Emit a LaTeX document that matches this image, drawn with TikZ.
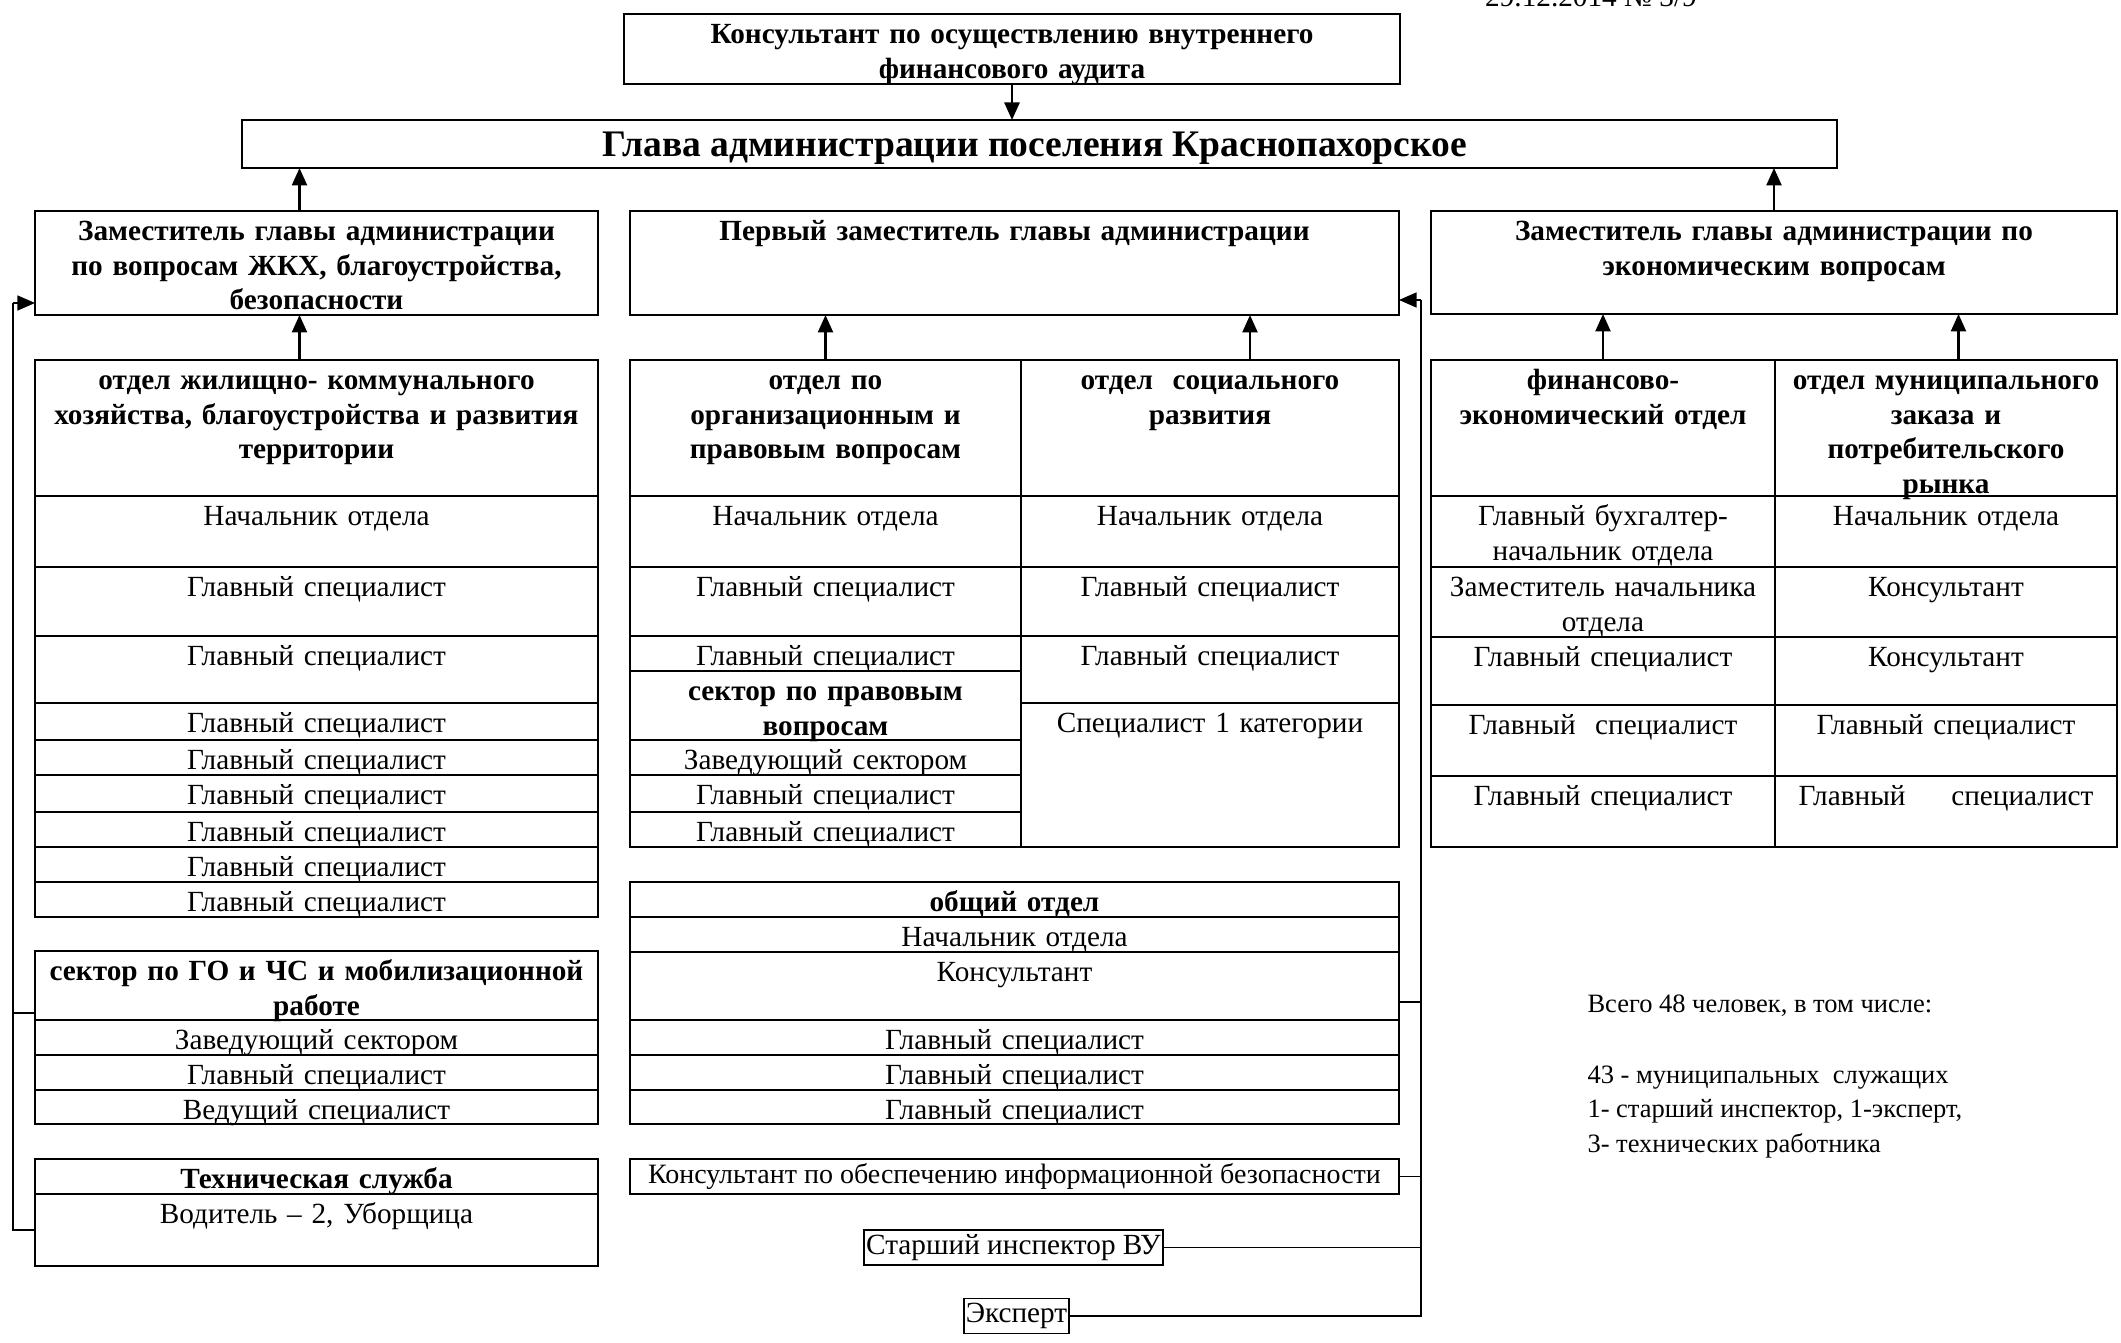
\documentclass[tikz,border=0pt]{standalone}
\usepackage{fontspec}
\setmainfont{Liberation Serif}
\usepackage{tikz}
\usetikzlibrary{arrows.meta}

\tikzset{
	cellbox/.style={draw, line width=1pt, inner sep=0pt, outer sep=0pt},
	celltext/.style={font=\fontsize{11.7}{13.8}\selectfont, align=center, inner sep=0pt, anchor=north},
	hdr/.style={font=\fontsize{11.7}{13.8}\selectfont\bfseries},
	thinbox/.style={draw, line width=0.6pt, inner sep=0pt, font=\fontsize{11.7}{13.8}\selectfont},
	bus/.style={line width=0.5pt},
	arr/.style={-{Triangle[length=7pt,width=6pt]}, line width=1pt},
	note/.style={font=\fontsize{10.6}{12}\selectfont, inner sep=0pt, anchor=base west},
}

\newcommand{\orgcell}[7][]{%
	\pgfmathsetmacro{\cw}{(#5-#3)*0.4}%
	\pgfmathsetmacro{\ch}{(#6-#4)*0.4}%
	\node[cellbox, minimum width=\cw pt, minimum height=\ch pt] (#2) at ({(#3+#5)/2},{(#4+#6)/2}) {};
	\node[celltext, #1, text width=\cw pt] (#2-txt) at ({(#3+#5)/2},{#4+5}) {\strut #7};
}

\begin{document}
\begin{tikzpicture}[x=0.4pt, y=-0.4pt]
	\useasboundingbox (0,0) rectangle (2121,1343);

	\node[celltext, anchor=base] (date) at (1591,7) {29.12.2014 № 3/9};

	\orgcell[hdr]{audit}{624}{14}{1400}{84}{Консультант по осуществлению внутреннего\\ финансового аудита}
	\node[cellbox, minimum width=638pt, minimum height=19.2pt] (head) at (1039.5,144) {};
	\node[inner sep=0pt, anchor=base, font=\fontsize{15}{18}\selectfont\bfseries] (head-txt) at (1035,157) {Глава администрации поселения Краснопахорское};

	\orgcell[hdr]{depZhkh}{35}{211}{598}{315}{Заместитель главы администрации\\ по вопросам ЖКХ, благоустройства,\\ безопасности}
	\orgcell[hdr]{depFirst}{630}{211}{1399}{315}{Первый заместитель главы администрации}
	\orgcell[hdr]{depEcon}{1431}{211}{2117}{314}{Заместитель главы администрации по\\ экономическим вопросам}

	\orgcell[hdr]{otdZhkh}{35}{360}{598}{496}{отдел жилищно- коммунального\\ хозяйства, благоустройства и развития\\ территории}
	\orgcell{zhkh1}{35}{496}{598}{567}{Начальник отдела}
	\orgcell{zhkh2}{35}{567}{598}{636}{Главный специалист}
	\orgcell{zhkh3}{35}{636}{598}{703}{Главный специалист}
	\orgcell{zhkh4}{35}{703}{598}{740}{Главный специалист}
	\orgcell{zhkh5}{35}{740}{598}{775}{Главный специалист}
	\orgcell{zhkh6}{35}{775}{598}{812}{Главный специалист}
	\orgcell{zhkh7}{35}{812}{598}{847}{Главный специалист}
	\orgcell{zhkh8}{35}{847}{598}{882}{Главный специалист}
	\orgcell{zhkh9}{35}{882}{598}{917}{Главный специалист}

	\orgcell[hdr]{go0}{35}{951}{598}{1020}{сектор по ГО и ЧС и мобилизационной\\ работе}
	\orgcell{go1}{35}{1020}{598}{1055}{Заведующий сектором}
	\orgcell{go2}{35}{1055}{598}{1090}{Главный специалист}
	\orgcell{go3}{35}{1090}{598}{1124}{Ведущий специалист}

	\orgcell[hdr]{tech0}{35}{1159}{598}{1194}{Техническая служба}
	\orgcell{tech1}{35}{1194}{598}{1266}{Водитель – 2, Уборщица}

	\orgcell[hdr]{otdOrg}{630}{360}{1021}{496}{отдел по\\ организационным и\\ правовым вопросам}
	\orgcell{org1}{630}{496}{1021}{567}{Начальник отдела}
	\orgcell{org2}{630}{567}{1021}{636}{Главный специалист}
	\orgcell{org3}{630}{636}{1021}{671}{Главный специалист}
	\orgcell[hdr]{orgSec}{630}{671}{1021}{740}{сектор по правовым\\ вопросам}
	\orgcell{org4}{630}{740}{1021}{775}{Заведующий сектором}
	\orgcell{org5}{630}{775}{1021}{812}{Главный специалист}
	\orgcell{org6}{630}{812}{1021}{847}{Главный специалист}

	\orgcell[hdr]{otdSoc}{1021}{360}{1399}{496}{отдел~ социального\\ развития}
	\orgcell{soc1}{1021}{496}{1399}{567}{Начальник отдела}
	\orgcell{soc2}{1021}{567}{1399}{636}{Главный специалист}
	\orgcell{soc3}{1021}{636}{1399}{703}{Главный специалист}
	\orgcell{soc4}{1021}{703}{1399}{847}{Специалист 1 категории}

	\orgcell[hdr]{obsh0}{630}{882}{1399}{917}{общий отдел}
	\orgcell{obsh1}{630}{917}{1399}{952}{Начальник отдела}
	\orgcell{obsh2}{630}{952}{1399}{1020}{Консультант}
	\orgcell{obsh3}{630}{1020}{1399}{1055}{Главный специалист}
	\orgcell{obsh4}{630}{1055}{1399}{1090}{Главный специалист}
	\orgcell{obsh5}{630}{1090}{1399}{1124}{Главный специалист}

	\node[cellbox, minimum width=307.6pt, minimum height=14pt, font=\fontsize{11.2}{13.8}\selectfont] (infoSec) at (1014.5,1176.5) {Консультант по обеспечению информационной безопасности};
	\node[thinbox, minimum width=119.6pt, minimum height=14pt] (inspector) at (1013.5,1247.5) {Старший инспектор ВУ};
	\node[thinbox, minimum width=42pt, minimum height=14pt] (expert) at (1016.5,1316) {Эксперт};

	\orgcell[hdr]{otdFin}{1431}{360}{1775}{496}{финансово-\\ экономический отдел}
	\orgcell{fin1}{1431}{496}{1775}{567}{Главный бухгалтер-\\ начальник отдела}
	\orgcell{fin2}{1431}{567}{1775}{637}{Заместитель начальника\\ отдела}
	\orgcell{fin3}{1431}{637}{1775}{705}{Главный специалист}
	\orgcell{fin4}{1431}{705}{1775}{776}{Главный~ специалист}
	\orgcell{fin5}{1431}{776}{1775}{847}{Главный специалист}

	\orgcell[hdr]{otdMun}{1775}{360}{2117}{496}{отдел муниципального\\ заказа и\\ потребительского\\ рынка}
	\orgcell{mun1}{1775}{496}{2117}{567}{Начальник отдела}
	\orgcell{mun2}{1775}{567}{2117}{637}{Консультант}
	\orgcell{mun3}{1775}{637}{2117}{705}{Консультант}
	\orgcell{mun4}{1775}{705}{2117}{776}{Главный специалист}
	\orgcell{mun5}{1775}{776}{2117}{847}{\makebox[118pt][l]{Главный\hfill специалист}}

	\node[note] (total) at (1587,1013) {Всего 48 человек, в том числе:};
	\node[note] (munSl) at (1587,1084) {43 - муниципальных~ служащих};
	\node[note] (inspExp) at (1587,1118) {1- старший инспектор, 1-эксперт,};
	\node[note] (techW) at (1587,1153) {3- технических работника};

	\draw[arr] (audit.south) -- (audit.south |- head.north);
	\draw[arr] ([xshift=-6.8pt]depZhkh.north) -- ([xshift=-6.8pt]depZhkh.north |- head.south);
	\draw[arr] (depEcon.north) -- (depEcon.north |- head.south);
	\draw[arr] ([xshift=-6.8pt]otdZhkh.north) -- ([xshift=-6.8pt]otdZhkh.north |- depZhkh.south);
	\draw[arr] (otdOrg.north) -- (otdOrg.north |- depFirst.south);
	\draw[arr] ([xshift=16pt]otdSoc.north) -- ([xshift=16pt]otdSoc.north |- depFirst.south);
	\draw[arr] (otdFin.north) -- (otdFin.north |- depEcon.south);
	\draw[arr] ([xshift=5pt]otdMun.north) -- ([xshift=5pt]otdMun.north |- depEcon.south);

	\coordinate (busLtop) at (13,303);
	\draw[bus] (tech1.west) -- (tech1.west -| busLtop) -- (busLtop);
	\draw[bus] ([yshift=2.8pt]go0.south west) -- ([yshift=2.8pt]go0.south west -| busLtop);
	\draw[arr, line width=0.5pt] (busLtop) -- (busLtop -| depZhkh.west);

	\coordinate (busRtop) at (1421,300);
	\draw[arr, line width=0.5pt] (busRtop) -- (busRtop -| depFirst.east);
	\draw[bus] (busRtop) -- (expert.east -| busRtop) -- (expert.east);
	\draw[bus] (inspector.east) -- (inspector.east -| busRtop);
	\draw[bus] (infoSec.east) -- (infoSec.east -| busRtop);
	\draw[bus] ([yshift=-6.4pt]obsh2.east) -- ([yshift=-6.4pt]obsh2.east -| busRtop);
\end{tikzpicture}
\end{document}
